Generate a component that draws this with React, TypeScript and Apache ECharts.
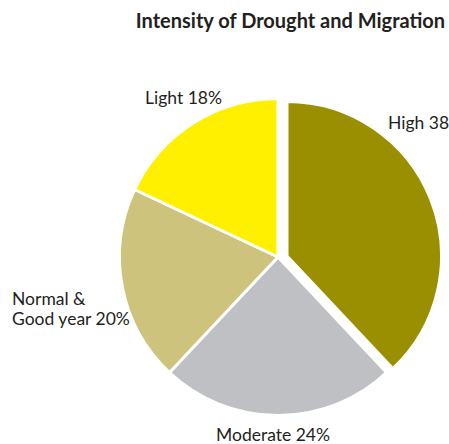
import React, { useEffect, useRef } from "react";
import * as echarts from "echarts";

const categories = ["High", "Moderate", "Normal &\nGood year", "Light"];
const values = [38, 24, 20, 18];
const units = ["", "%", "%", "%"];
const colors = ["#9a8f00", "#bfc0c4", "#cdc37c", "#fff000"];
// label anchor points (left edge, vertical middle) for each slice
const labelAnchors: [number, number][] = [
  [388, 122],
  [216, 434],
  [12, 308],
  [145, 97],
];
// the slice pulled out of the pie: which one, how far it moves and its radius
const explodedIndex = 0;
const explodeOffset: [number, number] = [9, -1];
const explodedRadius = 154.5;

const FONT = "Lato, Roboto, sans-serif";
const CENTER: [number, number] = [278, 257];
const RADIUS = 158.5;

export default function App() {
  const ref = useRef<HTMLDivElement>(null);
  useEffect(() => {
    document.body.style.margin = "0";
    const chart = echarts.init(ref.current!, null, { renderer: "svg" });

    const labelBase = {
      show: true,
      position: "outside",
      overflow: "none",
      fontFamily: FONT,
      fontSize: 17.5,
      lineHeight: 20,
      color: "#231f20",
      formatter: (p: any) => `${categories[p.dataIndex]} ${values[p.dataIndex]}${units[p.dataIndex]}`,
    };
    const layout = (p: any) => ({
      x: labelAnchors[p.dataIndex][0],
      y: labelAnchors[p.dataIndex][1],
      align: "left",
      verticalAlign: "middle",
    });

    const makeSeries = (exploded: boolean) => ({
      type: "pie",
      center: exploded
        ? [CENTER[0] + explodeOffset[0], CENTER[1] + explodeOffset[1]]
        : CENTER,
      radius: exploded ? explodedRadius : RADIUS,
      startAngle: 90,
      clockwise: true,
      silent: true,
      emphasis: { disabled: true },
      label: labelBase,
      labelLine: { show: false },
      labelLayout: layout,
      data: categories.map((name, i) => {
        const visible = (i === explodedIndex) === exploded;
        return {
          name,
          value: values[i],
          label: { show: visible },
          itemStyle: visible
            ? { color: colors[i], borderColor: "#ffffff", borderWidth: 3 }
            : { color: "transparent", borderWidth: 0 },
        };
      }),
    });

    chart.setOption({
      animation: false,
      backgroundColor: "#ffffff",
      title: {
        text: "Intensity of Drought and Migration",
        right: 3,
        top: 10,
        padding: 0,
        textStyle: { fontFamily: FONT, fontWeight: "bold", fontSize: 20, color: "#231f20" },
      },
      series: [makeSeries(false), makeSeries(true)],
    });
    return () => chart.dispose();
  }, []);
  return <div ref={ref} style={{ width: 449, height: 444 }} />;
}
